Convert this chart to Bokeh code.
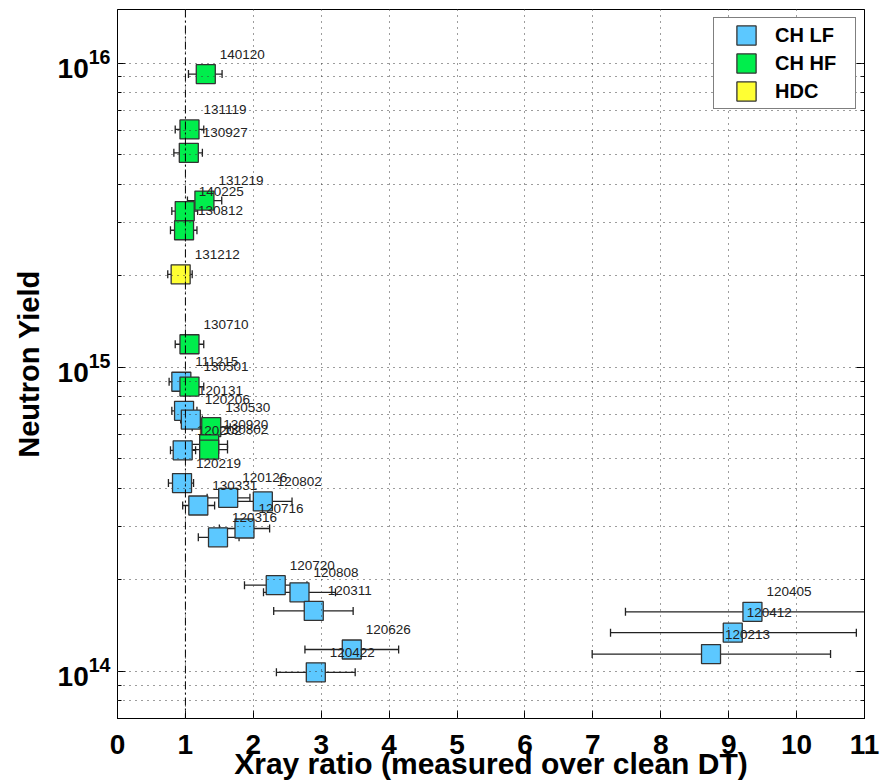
import numpy as np
from bokeh.plotting import figure
from bokeh.models import (ColumnDataSource, FixedTicker, Span, LogAxis, Range1d,
                          CustomJSTickFormatter, Legend, LegendItem)
from bokeh.embed import file_html
from bokeh.resources import INLINE
from bokeh.core.properties import value

# ---------------- data ----------------
# CH LF (low foot) shots
lf_names = ["111215", "120131", "120206", "120202", "120219", "120126", "120802",
            "130331", "120716", "120316", "120720", "120808", "120311", "120626",
            "120422", "120405", "120412", "120213"]
lf_x = [0.94, 0.98, 1.08, 0.96, 0.95, 1.63, 2.14, 1.19, 1.87, 1.48, 2.33, 2.68,
        2.89, 3.45, 2.92, 9.35, 9.06, 8.74]
lf_y = [8.96e14, 7.19e14, 6.73e14, 5.33e14, 4.16e14, 3.72e14, 3.62e14, 3.51e14,
        2.95e14, 2.76e14, 1.92e14, 1.82e14, 1.58e14, 1.18e14, 9.93e13, 1.57e14,
        1.34e14, 1.14e14]
lf_xlo = [0.76, 0.80, 0.93, 0.78, 0.75, 1.32, 1.71, 0.96, 1.50, 1.19, 1.87, 2.15,
          2.30, 2.76, 2.34, 7.48, 7.26, 6.99]
lf_xhi = [1.12, 1.17, 1.25, 1.15, 1.12, 1.95, 2.57, 1.43, 2.24, 1.79, 2.79, 3.21,
          3.47, 4.14, 3.50, 11.22, 10.88, 10.50]

# CH HF (high foot) shots
hf_names = ["140120", "131119", "130927", "131219", "140225", "130812", "130710",
            "130501", "130530", "130920", "130802"]
hf_x = [1.30, 1.06, 1.05, 1.28, 0.99, 0.98, 1.06, 1.06, 1.38, 1.35, 1.35]
hf_y = [9.2e15, 6.05e15, 5.07e15, 3.53e15, 3.26e15, 2.82e15, 1.19e15, 8.64e14,
        6.35e14, 5.58e14, 5.36e14]
hf_xlo = [1.045, 0.85, 0.83, 1.03, 0.80, 0.78, 0.85, 0.85, 1.10, 1.08, 1.08]
hf_xhi = [1.54, 1.27, 1.25, 1.535, 1.18, 1.17, 1.27, 1.27, 1.66, 1.62, 1.62]

# HDC shots
hdc_names = ["131212"]
hdc_x = [0.93]
hdc_y = [2.02e15]
hdc_xlo = [0.74]
hdc_xhi = [1.10]

x_ticks = list(range(0, 12))
y_ticks = [1e14, 1e15, 1e16]
x_limits = (0, 11)
y_limits = (7e13, 1.5e16)
reference_ratio = 1.0

series = [
    ("CH LF", "#5CC8FF", lf_names, lf_x, lf_y, lf_xlo, lf_xhi),
    ("CH HF", "#00EE4C", hf_names, hf_x, hf_y, hf_xlo, hf_xhi),
    ("HDC", "#FFFF33", hdc_names, hdc_x, hdc_y, hdc_xlo, hdc_xhi),
]

FONT = "Liberation Sans"

p = figure(frame_width=747, frame_height=709, y_axis_type="log",
           x_range=Range1d(*x_limits), y_range=Range1d(*y_limits),
           output_backend="svg", toolbar_location=None,
           min_border_left=117, min_border_top=9, min_border_right=16,
           min_border_bottom=5)
p.background_fill_color = "white"
p.border_fill_color = "white"
p.outline_line_color = "black"
p.outline_line_width = 1

y_minor = [m * 10.0 ** e for e in (13, 14, 15) for m in range(2, 10)
           if y_limits[0] <= m * 10.0 ** e <= y_limits[1]]

xa = p.below[0]
ya = p.left[0]
xa.ticker = FixedTicker(ticks=x_ticks)
ya.ticker = FixedTicker(ticks=y_ticks, minor_ticks=y_minor)
for ax in (xa, ya):
    ax.axis_line_color = "black"
    ax.major_tick_in = 8
    ax.major_tick_out = 0
    ax.minor_tick_in = 4
    ax.minor_tick_out = 0
    ax.major_tick_line_color = "black"
    ax.major_label_text_font = FONT
    ax.major_label_text_font_style = "bold"
    ax.major_label_text_font_size = "28px"
    ax.major_label_text_color = "black"
    ax.axis_label_text_font = FONT
    ax.axis_label_text_font_style = "bold"
    ax.axis_label_text_color = "black"
xa.minor_tick_line_color = None
xa.major_label_standoff = 16
xa.axis_label = "Xray ratio (measured over clean DT)"
xa.axis_label_text_font_size = "30px"
xa.axis_label_standoff = -10
ya.major_label_standoff = 7
ya.axis_label = "Neutron Yield"
ya.axis_label_text_font_size = "29px"
ya.axis_label_standoff = 10
ya.minor_tick_line_color = "black"

right_ax = LogAxis(ticker=FixedTicker(ticks=y_ticks, minor_ticks=y_minor),
                   formatter=CustomJSTickFormatter(code="return ''"),
                   major_tick_in=8, major_tick_out=0, minor_tick_in=4, minor_tick_out=0,
                   major_label_standoff=0, axis_line_color="black")
p.add_layout(right_ax, "right")

# grids (drawn above markers, like the original)
for g, tk in ((p.xgrid[0], xa.ticker), (p.ygrid[0], ya.ticker)):
    g.ticker = tk
    g.grid_line_color = "#3a3a3a"
    g.grid_line_dash = "1 5"
    g.grid_line_width = 1
    g.level = "annotation"
p.ygrid[0].minor_grid_line_color = "#3a3a3a"
p.ygrid[0].minor_grid_line_dash = "1 5"

sources = []
for label, color, names, xs, ys, xlo, xhi in series:
    sources.append(ColumnDataSource(dict(name=names, x=xs, y=ys, xlo=xlo, xhi=xhi)))

# error bars
for src in sources:
    p.segment(x0="xlo", y0="y", x1="xhi", y1="y", source=src,
              line_color="#222222", line_width=1.3)
    p.scatter(x="xlo", y="y", marker="dash", angle=np.pi / 2, size=8, source=src,
              line_color="#222222", line_width=1.3)
    p.scatter(x="xhi", y="y", marker="dash", angle=np.pi / 2, size=8, source=src,
              line_color="#222222", line_width=1.3)

# squares
renderers = []
for (label, color, *_), src in zip(series, sources):
    r = p.rect(x="x", y="y", width=19, height=19, width_units="screen",
               height_units="screen", source=src, fill_color=color,
               line_color="#333333", line_width=1.3)
    renderers.append((label, r))

# shot labels
for src in sources:
    p.text(x="x", y="y", text="name", source=src, x_offset=14, y_offset=-20,
           text_font=value(FONT), text_font_size="13.5px", text_baseline="middle",
           text_align="left", text_color="#222222")

p.add_layout(Span(location=reference_ratio, dimension="height", line_color="black",
                  line_dash="8 3 2 3", line_width=1))

legend = Legend(items=[LegendItem(label=l, renderers=[r]) for l, r in renderers],
                location="top_right", glyph_width=24, glyph_height=24,
                title="\u00a0", title_location="left", title_text_font_size="2px",
                title_standoff=13,
                label_text_font=FONT, label_text_font_style="bold",
                label_text_font_size="20px", label_text_color="black",
                label_standoff=17, label_width=75, padding=5, spacing=4, margin=8,
                border_line_color="black", border_line_width=1,
                background_fill_color="white", background_fill_alpha=1)
p.add_layout(legend)

open("out.html", "w").write(file_html(p, INLINE))
